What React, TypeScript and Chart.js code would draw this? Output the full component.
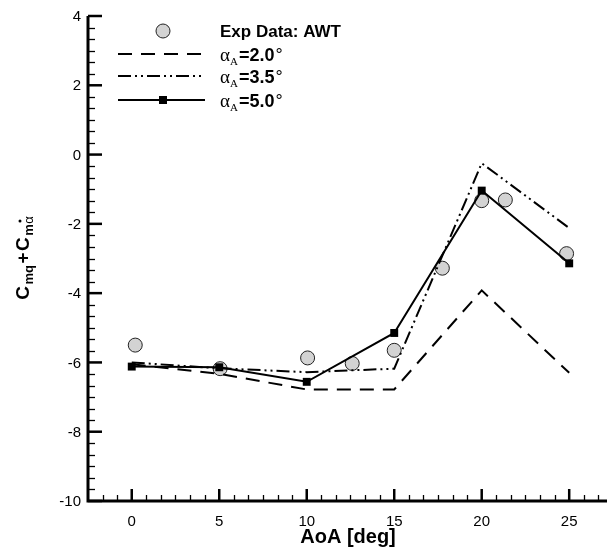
import React, { useEffect, useRef } from "react";
import { Chart, registerables } from "chart.js";

Chart.register(...registerables);

// ---- data ----
const aoaModel = [0, 5, 10, 15, 20, 25];
const cmAlpha20 = [-6.05, -6.33, -6.78, -6.78, -3.92, -6.3];
const cmAlpha35 = [-6.0, -6.17, -6.28, -6.18, -0.25, -2.12];
const cmAlpha50 = [-6.12, -6.14, -6.56, -5.15, -1.04, -3.14];
const expAoa = [0.2, 5.05, 10.05, 12.6, 15.0, 17.75, 20.0, 21.35, 24.85];
const expCm = [-5.5, -6.18, -5.87, -6.03, -5.65, -3.28, -1.33, -1.31, -2.86];

const xTickValues = [0, 5, 10, 15, 20, 25];
const yTickValues = [4, 2, 0, -2, -4, -6, -8, -10];
const xTitle = "AoA [deg]";
const expLabel = "Exp Data: AWT";
const alphaLabels = ["2.0", "3.5", "5.0"];

const SANS = '"Liberation Sans", Arial, Helvetica, sans-serif';
const SERIF = '"Liberation Serif", "Times New Roman", serif';
const DASHED = [14, 9];
const DASHDOT = [13, 4, 2, 4, 2, 4];

const tecplotPlugin = {
  id: "tecplotAxes",
  afterDraw(chart: any) {
    const { ctx, chartArea: a, scales } = chart;
    const xs = scales.x;
    const ys = scales.y;
    ctx.save();
    ctx.strokeStyle = "#000";
    ctx.fillStyle = "#000";
    ctx.setLineDash([]);

    // minor ticks y
    ctx.lineWidth = 1.3;
    for (let i = 0; i <= 42; i++) {
      if (i % 6 === 0) continue;
      const v = -10 + i / 3;
      const py = Math.round(ys.getPixelForValue(v)) + 0.5;
      ctx.beginPath();
      ctx.moveTo(a.left, py);
      ctx.lineTo(a.left + 7, py);
      ctx.stroke();
    }
    // minor ticks x
    for (let i = -3; i <= 33; i++) {
      if (i % 6 === 0) continue;
      const v = (i * 5) / 6;
      if (v < xs.min + 1e-6 || v > xs.max) continue;
      const px = Math.round(xs.getPixelForValue(v)) + 0.5;
      ctx.beginPath();
      ctx.moveTo(px, a.bottom);
      ctx.lineTo(px, a.bottom - 6);
      ctx.stroke();
    }
    // major ticks
    ctx.lineWidth = 2.5;
    yTickValues.forEach((v) => {
      const py = ys.getPixelForValue(v);
      ctx.beginPath();
      ctx.moveTo(a.left, py);
      ctx.lineTo(a.left + 14, py);
      ctx.stroke();
    });
    xTickValues.forEach((v) => {
      const px = xs.getPixelForValue(v);
      ctx.beginPath();
      ctx.moveTo(px, a.bottom);
      ctx.lineTo(px, a.bottom - 12);
      ctx.stroke();
    });
    // axis lines
    ctx.lineWidth = 3;
    ctx.beginPath();
    ctx.moveTo(a.left, a.top);
    ctx.lineTo(a.left, a.bottom);
    ctx.lineTo(a.right, a.bottom);
    ctx.stroke();

    // tick labels
    ctx.font = `15px ${SANS}`;
    ctx.textAlign = "right";
    ctx.textBaseline = "middle";
    yTickValues.forEach((v) => {
      ctx.fillText(String(v), a.left - 7, ys.getPixelForValue(v) + 1);
    });
    ctx.textAlign = "center";
    ctx.textBaseline = "top";
    xTickValues.forEach((v) => {
      ctx.fillText(String(v), xs.getPixelForValue(v), a.bottom + 13);
    });

    // x title
    ctx.font = `bold 20px ${SANS}`;
    ctx.textBaseline = "alphabetic";
    ctx.fillText(xTitle, 340, 535);

    // y title (rotated, with subscripts)
    const segs = [
      { t: "C", f: `bold 19px ${SANS}`, dy: 0, gap: 1.5 },
      { t: "mq", f: `bold 13px ${SANS}`, dy: 4, gap: 1.5 },
      { t: "+", f: `bold 19px ${SANS}`, dy: 0, gap: 1.5 },
      { t: "C", f: `bold 19px ${SANS}`, dy: 0, gap: 1.5 },
      { t: "m", f: `bold 13px ${SANS}`, dy: 4, gap: 0.5 },
      { t: "α", f: `13px ${SANS}`, dy: 4, gap: 0 },
    ];
    let total = 0;
    const widths = segs.map((s) => {
      ctx.font = s.f;
      const w = ctx.measureText(s.t).width;
      total += w + s.gap;
      return w;
    });
    ctx.save();
    ctx.translate(21, 250);
    ctx.rotate(-Math.PI / 2);
    ctx.textAlign = "left";
    ctx.textBaseline = "alphabetic";
    let cx = -total / 2;
    segs.forEach((s, i) => {
      ctx.font = s.f;
      ctx.fillText(s.t, cx, s.dy);
      if (i === segs.length - 1) {
        ctx.beginPath();
        ctx.arc(cx + widths[i] / 2 - 1, -9, 1.5, 0, Math.PI * 2);
        ctx.fill();
      }
      cx += widths[i] + s.gap;
    });
    ctx.restore();

    // legend
    const lx0 = 110;
    const lx1 = 197;
    const sx = 155;
    const tx = 212;
    const rows = [23, 46, 68, 92];
    // exp row
    ctx.beginPath();
    ctx.arc(sx, rows[0], 7, 0, Math.PI * 2);
    ctx.fillStyle = "#d3d3d3";
    ctx.fill();
    ctx.lineWidth = 1;
    ctx.strokeStyle = "#222";
    ctx.stroke();
    ctx.fillStyle = "#000";
    ctx.strokeStyle = "#000";
    ctx.font = `bold 17px ${SANS}`;
    ctx.textAlign = "left";
    ctx.textBaseline = "alphabetic";
    ctx.fillText(expLabel, tx, rows[0] + 6);
    const dashes = [DASHED, DASHDOT, []];
    alphaLabels.forEach((lab, i) => {
      const y = rows[i + 1];
      ctx.lineWidth = 2;
      ctx.setLineDash(dashes[i]);
      ctx.beginPath();
      ctx.moveTo(lx0, y);
      ctx.lineTo(lx1, y);
      ctx.stroke();
      ctx.setLineDash([]);
      if (i === 2) ctx.fillRect(sx - 4, y - 4, 8, 8);
      let x = tx;
      const base = y + 6.5;
      ctx.font = `19px ${SERIF}`;
      ctx.fillText("α", x, base);
      x += ctx.measureText("α").width;
      ctx.font = `11px ${SERIF}`;
      ctx.fillText("A", x, base + 4);
      x += ctx.measureText("A").width + 1;
      ctx.font = `bold 18px ${SANS}`;
      const t = "=" + lab;
      ctx.fillText(t, x, base);
      x += ctx.measureText(t).width + 1;
      ctx.font = `18px ${SANS}`;
      ctx.fillText("°", x, base);
    });
    ctx.restore();
  },
};

export default function App() {
  const ref = useRef<HTMLCanvasElement | null>(null);
  useEffect(() => {
    document.documentElement.style.overflow = "hidden";
    const canvas = ref.current;
    if (!canvas) return;
    const pts = (xs: number[], ys: number[]) => xs.map((x, i) => ({ x, y: ys[i] }));
    const chart = new Chart(canvas, {
      type: "scatter",
      data: {
        datasets: [
          {
            label: "αA=5.0°",
            data: pts(aoaModel, cmAlpha50),
            showLine: true,
            borderColor: "#000",
            borderWidth: 2,
            pointStyle: "rect",
            pointRadius: 5.6,
            pointBackgroundColor: "#000",
            pointBorderWidth: 0,
            tension: 0,
          },
          {
            label: "αA=3.5°",
            data: pts(aoaModel, cmAlpha35),
            showLine: true,
            borderColor: "#000",
            borderWidth: 2,
            borderDash: DASHDOT,
            pointRadius: 0,
            tension: 0,
          },
          {
            label: "αA=2.0°",
            data: pts(aoaModel, cmAlpha20),
            showLine: true,
            borderColor: "#000",
            borderWidth: 2,
            borderDash: DASHED,
            pointRadius: 0,
            tension: 0,
          },
          {
            label: expLabel,
            data: pts(expAoa, expCm),
            showLine: false,
            pointStyle: "circle",
            pointRadius: 7,
            pointBackgroundColor: "#d3d3d3",
            pointBorderColor: "#222",
            pointBorderWidth: 1,
          },
        ],
      },
      options: {
        responsive: false,
        animation: false,
        events: [],
        layout: { padding: { top: 7, left: 0, right: 0, bottom: 0 } },
        plugins: { legend: { display: false }, tooltip: { enabled: false } },
        scales: {
          x: {
            type: "linear",
            min: -2.5,
            max: 27.16,
            grid: { display: false },
            border: { display: false },
            ticks: { display: false },
            afterFit: (s: any) => {
              s.height = 51;
            },
          },
          y: {
            type: "linear",
            min: -10,
            max: 4,
            grid: { display: false },
            border: { display: false },
            ticks: { display: false },
            afterFit: (s: any) => {
              s.width = 80;
            },
          },
        },
      },
      plugins: [tecplotPlugin],
    } as any);
    return () => chart.destroy();
  }, []);
  return (
    <div style={{ width: 607, height: 544 }}>
      <canvas ref={ref} width={607} height={544} style={{ display: "block" }} />
    </div>
  );
}
